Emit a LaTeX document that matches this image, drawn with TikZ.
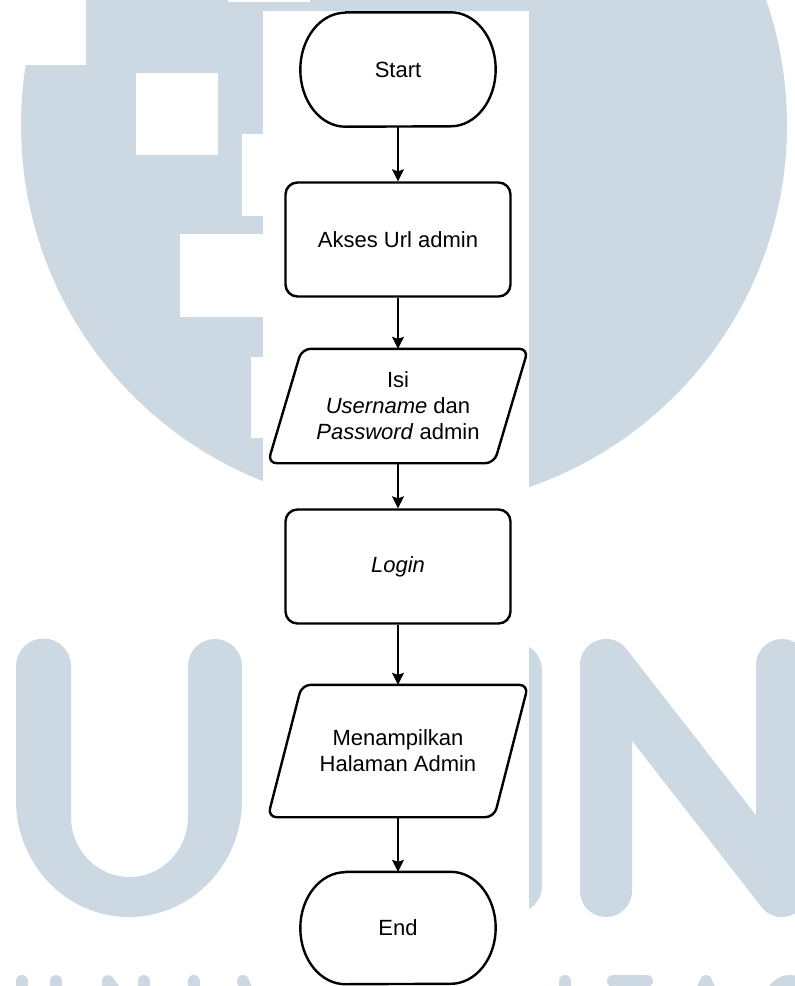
\documentclass[tikz,border=0pt]{standalone}
\usepackage{fontspec}
\setmainfont{Liberation Sans}
\usetikzlibrary{arrows.meta}
\definecolor{logoblue}{RGB}{204,217,227}

% outline of a terminator: flat top and bottom, half-elliptic ends
\newcommand{\terminalpath}[2]{%
  \draw[outline] ([xshift=45pt]#1.north west) -- ([xshift=-45pt]#1.north east)
    arc[start angle=90, end angle=-90, x radius=45, y radius=#2]
    -- ([xshift=45pt]#1.south west)
    arc[start angle=270, end angle=90, x radius=45, y radius=#2] -- cycle;}
% outline of an input/output parallelogram with rounded corners
\newcommand{\slantpath}[1]{%
  \draw[outline, rounded corners=9pt] (#1.north) -- (#1.north east)
    -- ([xshift=-34pt]#1.south east) -- (#1.south west)
    -- ([xshift=34pt]#1.north west) -- cycle;}

\begin{document}
\begin{tikzpicture}[x=1pt, y=1pt,
  every node/.style={font=\fontsize{22}{26}\selectfont, align=center, inner sep=0pt},
  terminal/.style={minimum width=195pt, minimum height=114pt},
  process/.style={draw, line width=2.4pt, rounded corners=12pt,
                  minimum width=225pt, minimum height=114pt},
  slanted/.style={minimum width=260pt, minimum height=114pt},
  outline/.style={line width=2.4pt, line join=round},
  flow/.style={line width=1.4pt, -{Stealth[length=12pt, width=12pt, inset=2pt]}},
  logostroke/.style={draw=logoblue, line cap=round, line join=round}
]
\useasboundingbox (0,0) rectangle (795,-986);

% background logo
\begin{scope}
  \clip (0,0) rectangle (795,-986);
  \fill[logoblue] (404,-125) circle[radius=383];
  \fill[white] (0,0) rectangle (86,-65);
  \fill[white] (228,0) rectangle (310,-2);
  \fill[white] (136,-73) rectangle (218,-155);
  \fill[white] (242,-134) rectangle (300,-216);
  \fill[white] (180,-234) rectangle (263,-317);
  \fill[white] (251,-357) rectangle (300,-438);
  % letter U
  \fill[logoblue] (16,-666) -- (16,-800)
    arc[start angle=180, end angle=360, x radius=113, y radius=117]
    -- (242,-666) arc[start angle=0, end angle=180, radius=27]
    -- (188,-817) arc[start angle=0, end angle=-180, x radius=58.5, y radius=60]
    -- (71,-666) arc[start angle=0, end angle=180, radius=27.5] -- cycle;
  % letter M (right stroke)
  \fill[logoblue, rounded corners=27pt] (488,-643) rectangle (542,-913);
  % letter N
  \draw[logostroke, line width=52pt] (606,-891) -- (606,-665) -- (782,-891) -- (782,-665);
  % lettering along the bottom edge
  \begin{scope}[logostroke, line width=12pt]
    \draw (21.5,-981) -- (21.5,-1010);
    \draw (56,-981) -- (56,-1010);
    \draw (108,-1010) -- (108,-981) -- (143.5,-1030);
    \draw (143.5,-981) -- (143.5,-1010);
    \draw (193.5,-981) -- (193.5,-1010);
    \draw (243,-981) -- (262,-1030);
    \draw (565,-981) -- (565,-1010);
    \draw (613,-981) -- (647,-981);
    \draw (630,-981) -- (630,-1010);
    \draw (694,-1010) -- (706,-981) -- (718,-1010);
    \draw (790,-1000) ++(30:19) arc[start angle=30, end angle=200, radius=19];
  \end{scope}
  % white panel behind the flowchart
  \fill[white] (263,-11) rectangle (529,-986);
\end{scope}

% flowchart
\node[terminal] (start) at (398,-69.5) {Start};
\node[process] (akses) at (398,-239.5) {Akses Url admin};
\node[slanted] (isi) at (398,-406) {Isi\\\textit{Username} dan\\\textit{Password} admin};
\node[process] (login) at (398,-566.5) {\textit{Login}};
\node[slanted, minimum height=132pt] (tampil) at (398,-751) {Menampilkan\\Halaman Admin};
\node[terminal, minimum height=112pt] (end) at (398,-928) {End};

\terminalpath{start}{57}
\terminalpath{end}{56}
\slantpath{isi}
\slantpath{tampil}

\draw[flow] (start.south) -- (akses.north);
\draw[flow] (akses.south) -- (isi.north);
\draw[flow] (isi.south) -- (login.north);
\draw[flow] (login.south) -- (tampil.north);
\draw[flow] (tampil.south) -- (end.north);
\end{tikzpicture}
\end{document}
